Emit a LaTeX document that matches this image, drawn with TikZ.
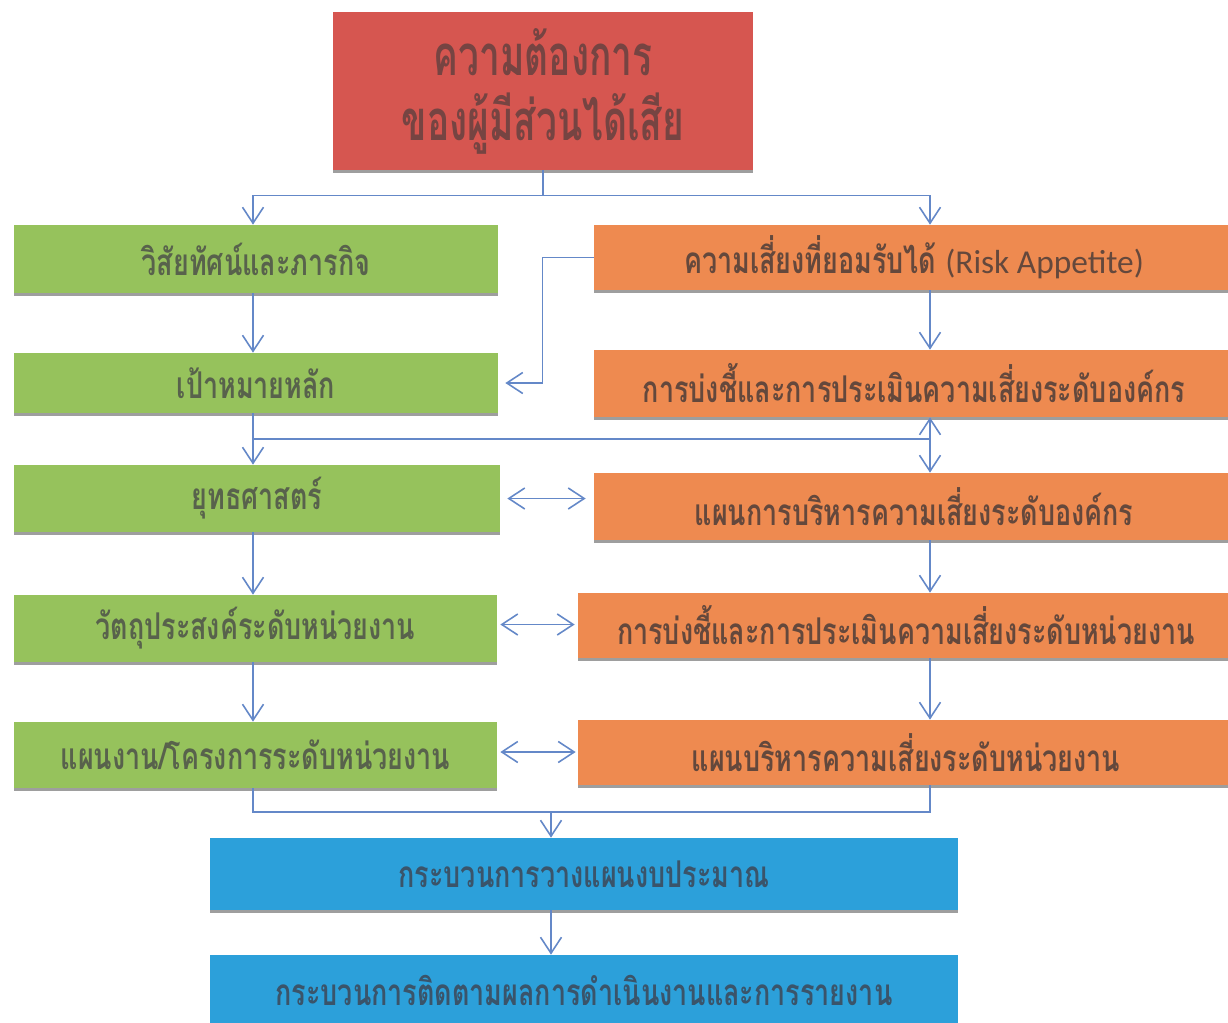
\documentclass[tikz,border=0pt]{standalone}
\usepackage{fontspec}
\newfontfamily\thai[Script=Thai,FakeStretch=0.73]{Loma}
\newfontfamily\thaititle[Script=Thai,FakeStretch=0.66]{Loma}
\newfontfamily\lat{Carlito}
\usetikzlibrary{arrows.meta,shadows,calc}
\definecolor{redf}{RGB}{214,86,80}
\definecolor{redt}{RGB}{118,68,66}
\definecolor{grnf}{RGB}{150,194,92}
\definecolor{grnt}{RGB}{88,98,76}
\definecolor{orgf}{RGB}{238,138,80}
\definecolor{orgt}{RGB}{100,72,60}
\definecolor{bluf}{RGB}{44,160,218}
\definecolor{blut}{RGB}{58,84,106}
\definecolor{arrc}{RGB}{100,136,200}
\tikzset{
  sz/.style 2 args={minimum width=#1*0.02cm, minimum height=#2*0.02cm},
  boxbase/.style={inner sep=0pt, align=center, general shadow={fill=black!38, shadow yshift=-0.06cm}},
  redbox/.style={boxbase, fill=redf, text=redt, font=\thaititle\bfseries\fontsize{32}{37}\selectfont},
  grnbox/.style={boxbase, fill=grnf, text=grnt, font=\thai\bfseries\fontsize{21}{24}\selectfont},
  orgbox/.style={boxbase, fill=orgf, text=orgt, font=\thai\bfseries\fontsize{21}{24}\selectfont},
  blubox/.style={boxbase, fill=bluf, text=blut, font=\thai\bfseries\fontsize{21}{24}\selectfont},
  conn/.style={draw=arrc, line width=0.9pt},
  arr/.style={conn, -{Straight Barb[length=0.32cm, width=0.42cm]}},
  dbl/.style={conn, {Straight Barb[length=0.32cm, width=0.42cm]}-{Straight Barb[length=0.32cm, width=0.42cm]}},
}
\begin{document}
\begin{tikzpicture}[x=0.02cm, y=-0.02cm]
\fill[white] (0,0) rectangle (1228,1022);
\useasboundingbox (0,0) rectangle (1228,1022);
\coordinate (xg) at (253,0);
\coordinate (xo) at (930,0);
\coordinate (xb) at (551,0);

\node[redbox, sz={420}{158}] (t) at (543,91) {\rule{0pt}{10pt}ความต้องการ\\ของผู้มีส่วนได้เสีย};

\node[grnbox, sz={484}{68}] (g1) at (256,259) {วิสัยทัศน์และภารกิจ};
\node[grnbox, sz={484}{60}] (g2) at (256,383) {เป้าหมายหลัก};
\node[grnbox, sz={486}{67}] (g3) at (257,498.5) {ยุทธศาสตร์};
\node[grnbox, sz={483}{67}] (g4) at (255.5,628.5) {วัตถุประสงค์ระดับหน่วยงาน};
\node[grnbox, sz={483}{66}] (g5) at (255.5,755) {แผนงาน/โครงการระดับหน่วยงาน};

\node[orgbox, sz={640}{65}] (o1) at (914,257.5) {ความเสี่ยงที่ยอมรับได้ {\lat\mdseries\fontsize{19}{22}\selectfont (Risk Appetite)}};
\node[orgbox, sz={640}{67}] (o2) at (914,383.5) {การบ่งชี้และการประเมินความเสี่ยงระดับองค์กร};
\node[orgbox, sz={640}{67}] (o3) at (914,506.5) {แผนการบริหารความเสี่ยงระดับองค์กร};
\node[orgbox, sz={656}{65}] (o4) at (906,625.5) {การบ่งชี้และการประเมินความเสี่ยงระดับหน่วยงาน};
\node[orgbox, sz={656}{65}] (o5) at (906,752.5) {แผนบริหารความเสี่ยงระดับหน่วยงาน};

\node[blubox, sz={748}{72}] (b1) at (584,874) {กระบวนการวางแผนงบประมาณ};
\node[blubox, sz={748}{70}] (b2) at (584,990) {กระบวนการติดตามผลการดำเนินงานและการรายงาน};

% top split
\draw[conn] (t.south) -- ++(0,25) coordinate (j1);
\draw[arr] (j1) -| (g1.north -| xg);
\draw[arr] (j1) -| (o1.north -| xo);

% left column
\draw[arr] (g1.south -| xg) -- (g2.north -| xg);
\draw[arr] (g2.south -| xg) -- (g3.north -| xg);
\draw[arr] (g3.south -| xg) -- (g4.north -| xg);
\draw[arr] (g4.south -| xg) -- (g5.north -| xg);

% right column
\draw[arr] (o1.south -| xo) -- (o2.north -| xo);
\draw[dbl] (o2.south -| xo) -- (o3.north -| xo);
\draw[arr] (o3.south -| xo) -- (o4.north -| xo);
\draw[arr] (o4.south -| xo) -- (o5.north -| xo);

% link between goal step and risk plan
\coordinate (m) at ($(g2.south -| xg)!0.5!(g3.north -| xg)$);
\draw[conn] (m) -- (m -| xo);

% risk appetite to main goals
\draw[arr, shorten >=0.14cm] (o1.west) -- ++(-51,0) |- (g2.east);

% two-way links
\draw[dbl, shorten <=0.14cm, shorten >=0.16cm] (g3.east) -- (g3.east -| o3.west);
\draw[dbl, shorten <=0.06cm, shorten >=0.06cm] ([yshift=0.08cm]g4.east) -- ([yshift=0.08cm]g4.east -| o4.west);
\draw[dbl, shorten <=0.06cm, shorten >=0.04cm] ([yshift=0.06cm]g5.east) -- ([yshift=0.06cm]g5.east -| o5.west);

% join to budgeting
\coordinate (lowj) at (551,812);
\draw[conn] (g5.south -| xg) |- (lowj) -| (o5.south -| xo);
\draw[arr] (lowj) -- (b1.north -| lowj);
\draw[arr] (b1.south -| xb) -- (b2.north -| xb);
\end{tikzpicture}
\end{document}
